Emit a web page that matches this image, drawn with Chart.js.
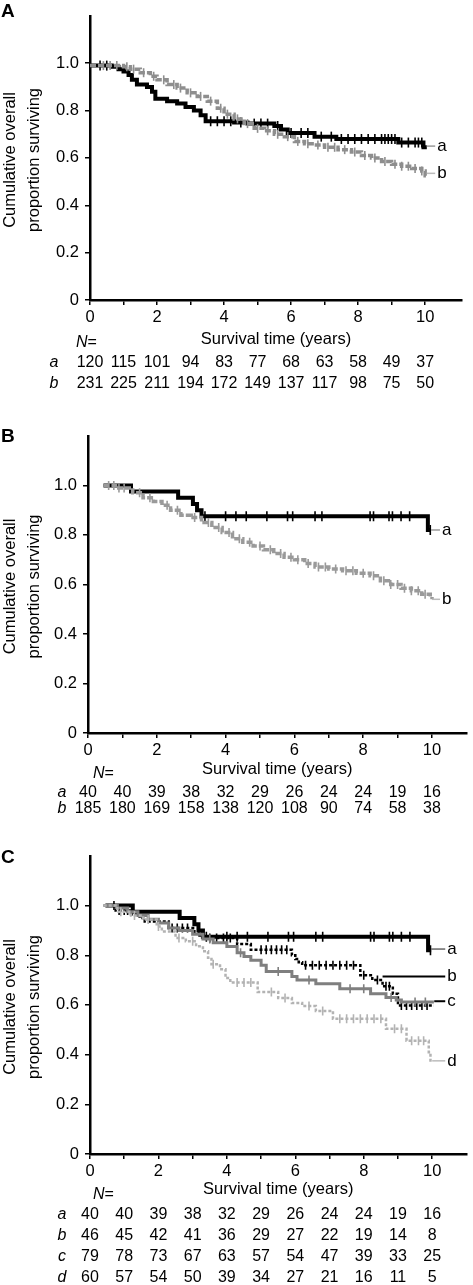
<!DOCTYPE html>
<html>
<head>
<meta charset="utf-8">
<script src="https://cdn.jsdelivr.net/npm/chart.js@4.4.0/dist/chart.umd.min.js"></script>
<style>
html, body { margin: 0; padding: 0; background: #fff; }
#wrap { position: relative; width: 473px; height: 1285px; }
canvas { position: absolute; left: 0; }
</style>
</head>
<body>
<div id="wrap">
  <canvas id="chartA" width="473" height="410" style="top:0px"></canvas>
  <canvas id="chartB" width="473" height="420" style="top:420px"></canvas>
  <canvas id="chartC" width="473" height="445" style="top:840px"></canvas>
</div>
<script>
// ---- data ----
const years = [0, 1, 2, 3, 4, 5, 6, 7, 8, 9, 10];
const yTicks = [0, 0.2, 0.4, 0.6, 0.8, 1.0];

// Panel A
const timeA_a = [0, 0.65, 0.85, 1.0, 1.15, 1.25, 1.4, 1.7, 1.85, 1.95, 2.3, 2.6, 2.85, 3.1, 3.3, 3.45, 4.3, 4.7, 5.5, 5.7, 5.9, 6.7, 7.35, 9.2, 9.95, 10.05];
const survA_a = [0.99, 0.985, 0.975, 0.965, 0.95, 0.93, 0.91, 0.9, 0.88, 0.85, 0.84, 0.83, 0.815, 0.8, 0.78, 0.755, 0.75, 0.745, 0.735, 0.72, 0.705, 0.69, 0.68, 0.665, 0.645, 0.645];
const censA_a = [0.3, 0.5, 3.6, 3.8, 4.0, 4.2, 4.5, 4.9, 5.1, 5.3, 5.6, 6.0, 6.3, 6.5, 6.9, 7.2, 7.5, 7.7, 7.9, 8.1, 8.3, 8.5, 8.7, 8.8, 8.9, 9.0, 9.1, 9.3, 9.5, 9.7, 9.8, 9.9];
const timeA_b = [0, 0.7, 1.0, 1.2, 1.5, 1.8, 2.0, 2.3, 2.6, 2.9, 3.2, 3.5, 3.8, 4.0, 4.3, 4.6, 4.9, 5.2, 5.5, 5.8, 6.1, 6.4, 6.7, 7.0, 7.4, 7.8, 8.1, 8.4, 8.7, 9.0, 9.3, 9.6, 9.9, 10.0, 10.05];
const survA_b = [0.99, 0.99, 0.985, 0.975, 0.96, 0.945, 0.93, 0.91, 0.895, 0.875, 0.86, 0.84, 0.81, 0.785, 0.765, 0.745, 0.725, 0.715, 0.7, 0.69, 0.67, 0.66, 0.655, 0.645, 0.635, 0.625, 0.61, 0.6, 0.585, 0.573, 0.565, 0.555, 0.545, 0.525, 0.525];
const censA_b = [0.4, 0.6, 0.8, 1.1, 1.3, 1.6, 1.9, 2.2, 2.5, 2.7, 3.0, 3.3, 3.6, 3.9, 4.1, 4.4, 4.7, 5.0, 5.3, 5.6, 5.9, 6.2, 6.5, 6.8, 7.1, 7.3, 7.6, 7.9, 8.2, 8.5, 8.8, 9.1, 9.3, 9.5, 9.7, 9.9];
const riskA_a = [120, 115, 101, 94, 83, 77, 68, 63, 58, 49, 37];
const riskA_b = [231, 225, 211, 194, 172, 149, 137, 117, 98, 75, 50];

// Panel B (group a is the same cohort in panel C)
const timeB_a = [0.45, 1.25, 2.62, 3.05, 3.17, 3.3, 9.88, 9.97];
const survB_a = [1.0, 0.975, 0.95, 0.925, 0.9, 0.875, 0.82, 0.82];
const censB_a = [3.4, 4.0, 4.3, 4.6, 5.2, 5.8, 5.95, 6.6, 6.8, 8.2, 8.3, 8.75, 8.85, 9.1, 9.35, 9.95];
const timeB_b = [0.45, 0.8, 1.3, 1.6, 1.9, 2.15, 2.4, 2.7, 3.0, 3.3, 3.6, 3.9, 4.2, 4.5, 4.8, 5.1, 5.4, 5.7, 6.0, 6.3, 6.6, 7.0, 7.4, 7.8, 8.2, 8.5, 8.8, 9.1, 9.4, 9.7, 9.95, 10.0];
const survB_b = [1.0, 0.99, 0.97, 0.95, 0.935, 0.92, 0.9, 0.88, 0.87, 0.85, 0.83, 0.81, 0.785, 0.77, 0.755, 0.74, 0.725, 0.71, 0.7, 0.685, 0.67, 0.662, 0.655, 0.645, 0.635, 0.615, 0.6, 0.585, 0.575, 0.56, 0.55, 0.54];
const censB_b = [0.6, 0.75, 0.9, 1.05, 1.5, 1.8, 2.3, 2.6, 3.1, 3.5, 3.8, 4.1, 4.4, 4.7, 5.0, 5.3, 5.6, 5.9, 6.1, 6.4, 6.7, 6.9, 7.2, 7.5, 7.7, 8.0, 8.3, 8.6, 8.8, 9.0, 9.2, 9.4, 9.6, 9.8];
const riskB_a = [40, 40, 39, 38, 32, 29, 26, 24, 24, 19, 16];
const riskB_b = [185, 180, 169, 158, 138, 120, 108, 90, 74, 58, 38];

// Panel C
const timeC_b = [0.4, 0.75, 1.2, 1.45, 1.6, 2.3, 3.05, 3.2, 3.3, 4.3, 4.7, 5.9, 6.0, 6.1, 6.2, 7.9, 8.25, 8.55, 8.85, 9.0, 10.05];
const survC_b = [1.0, 0.98, 0.965, 0.95, 0.936, 0.91, 0.895, 0.88, 0.87, 0.845, 0.822, 0.8, 0.785, 0.772, 0.76, 0.72, 0.7, 0.675, 0.645, 0.598, 0.598];
const censC_b = [0.7, 0.85, 1.0, 1.1, 2.4, 2.55, 2.7, 2.85, 3.5, 3.7, 3.9, 4.1, 5.0, 5.15, 5.3, 5.45, 5.6, 5.75, 6.3, 6.5, 6.7, 6.9, 7.1, 7.3, 7.5, 7.7, 8.0, 8.4, 8.65, 8.75, 9.1, 9.25, 9.4, 9.55, 9.7, 9.85];
const timeC_c = [0.4, 0.8, 1.1, 1.4, 1.7, 2.0, 2.3, 2.6, 3.0, 3.3, 3.6, 4.0, 4.3, 4.5, 4.7, 5.0, 5.15, 5.9, 6.05, 6.6, 7.3, 8.2, 8.65, 8.95, 9.1, 10.05];
const survC_c = [1.0, 0.99, 0.975, 0.96, 0.945, 0.93, 0.91, 0.9, 0.885, 0.865, 0.85, 0.835, 0.81, 0.795, 0.78, 0.76, 0.735, 0.715, 0.7, 0.685, 0.665, 0.645, 0.63, 0.62, 0.612, 0.612];
const censC_c = [3.5, 4.4, 5.5, 6.4, 7.6, 8.0, 8.8, 9.5, 9.8];
const timeC_d = [0.4, 0.8, 1.2, 1.55, 1.95, 2.1, 2.5, 2.8, 3.1, 3.3, 3.45, 3.55, 3.8, 3.96, 4.1, 4.9, 5.5, 5.9, 6.2, 6.6, 7.1, 8.65, 9.25, 9.9, 9.95, 10.0];
const survC_d = [1.0, 0.975, 0.96, 0.944, 0.916, 0.896, 0.87, 0.856, 0.836, 0.816, 0.79, 0.764, 0.744, 0.708, 0.69, 0.652, 0.628, 0.608, 0.596, 0.576, 0.544, 0.504, 0.456, 0.41, 0.37, 0.37];
const censC_d = [0.9, 1.3, 1.7, 2.0, 2.6, 3.0, 3.6, 4.3, 4.5, 4.7, 5.3, 5.7, 6.4, 6.8, 7.3, 7.5, 7.7, 7.9, 8.1, 8.3, 8.5, 8.9, 9.1, 9.4, 9.6, 9.75];
const riskC_b = [46, 45, 42, 41, 36, 29, 27, 22, 19, 14, 8];
const riskC_c = [79, 78, 73, 67, 63, 57, 54, 47, 39, 33, 25];
const riskC_d = [60, 57, 54, 50, 39, 34, 27, 21, 16, 11, 5];

const FONT = '"Liberation Sans", Arial, Helvetica, sans-serif';

// survival value at time t (step function)
function survAt(t, times, surv) {
    let s = surv[0];
    for (let i = 0; i < times.length; i++) {
        if (times[i] <= t) s = surv[i];
    }
    return s;
}

function curve(times, surv, color, width, dash) {
    return {
        type: 'line',
        data: times.map((t, i) => ({ x: t, y: surv[i] })),
        borderColor: color,
        borderWidth: width,
        borderDash: dash || [],
        // horizontal first, then drop: Kaplan-Meier style
        stepped: 'before',
        pointRadius: 0,
        fill: false
    };
}

function censors(cens, times, surv, color, size) {
    return {
        type: 'line',
        data: cens.map(t => ({ x: t, y: survAt(t, times, surv) })),
        showLine: false,
        pointStyle: 'line',
        rotation: 90,
        pointRadius: size || 5,
        borderColor: color,
        borderWidth: 1.6,
        backgroundColor: color
    };
}

function textPlugin(p) {
    return {
        id: 'panelText',
        afterDraw(chart) {
            const ctx = chart.ctx;
            const area = chart.chartArea;
            const xs = chart.scales.x;
            const ys = chart.scales.y;
            ctx.save();
            ctx.fillStyle = '#000';

            // panel letter
            ctx.font = 'bold 19px ' + FONT;
            ctx.textAlign = 'left';
            ctx.textBaseline = 'middle';
            ctx.fillText(p.letter, 1, p.letterY);

            // y title, two lines
            ctx.font = '16.5px ' + FONT;
            ctx.textAlign = 'center';
            const midY = (area.top + area.bottom) / 2 + 2;
            ['Cumulative overall', 'proportion surviving'].forEach((line, i) => {
                ctx.save();
                ctx.translate(10 + i * 24, midY);
                ctx.rotate(-Math.PI / 2);
                ctx.fillText(line, 0, 0);
                ctx.restore();
            });

            // x title
            ctx.fillText('Survival time (years)', (area.left + area.right) / 2, p.titleY);

            // N=
            ctx.textAlign = 'left';
            ctx.font = 'italic 16px ' + FONT;
            ctx.fillText('N', p.nX, p.nY);
            const nw = ctx.measureText('N').width;
            ctx.font = '16px ' + FONT;
            ctx.fillText('=', p.nX + nw, p.nY);

            // numbers at risk
            p.rows.forEach((row, r) => {
                const y = p.rowY[r];
                ctx.font = 'italic 16px ' + FONT;
                ctx.textAlign = 'center';
                ctx.fillText(row.name, p.rowX, y);
                ctx.font = '16px ' + FONT;
                row.values.forEach((v, i) => {
                    ctx.fillText(String(v), xs.getPixelForValue(years[i]), y);
                });
            });

            // curve labels and leader stubs
            p.labels.forEach(l => {
                const y = ys.getPixelForValue(l.y);
                ctx.strokeStyle = l.stubColor;
                ctx.lineWidth = l.stubWidth || 1.5;
                ctx.beginPath();
                ctx.moveTo(xs.getPixelForValue(l.from), y);
                ctx.lineTo(xs.getPixelForValue(p.labelX) - 2, y);
                ctx.stroke();
                ctx.font = '17px ' + FONT;
                ctx.textAlign = 'left';
                ctx.fillText(l.text, xs.getPixelForValue(p.labelX), y);
            });
            ctx.restore();
        }
    };
}

function drawPanel(id, p) {
    const canvas = document.getElementById(id);
    const H = canvas.height;
    new Chart(canvas.getContext('2d'), {
        data: { datasets: p.datasets },
        options: {
            responsive: false,
            animation: false,
            devicePixelRatio: 1,
            layout: { padding: { top: p.top, right: 473 - p.right, left: 0, bottom: 0 } },
            plugins: { legend: { display: false }, tooltip: { enabled: false } },
            scales: {
                x: {
                    type: 'linear',
                    min: 0,
                    max: p.xMax,
                    afterBuildTicks: s => { s.ticks = years.map(v => ({ value: v })); },
                    afterFit: s => { s.height = H - p.bottom; },
                    ticks: {
                        autoSkip: false,
                        maxRotation: 0,
                        padding: 3,
                        color: '#000',
                        font: { family: FONT, size: 16.5 },
                        callback: v => (v % 2 === 0 ? String(v) : '')
                    },
                    grid: { drawOnChartArea: false, drawTicks: true, tickLength: 5, color: '#000', lineWidth: 1.5 },
                    border: { display: true, color: '#000', width: 2.5 }
                },
                y: {
                    type: 'linear',
                    min: 0,
                    max: 1.2,
                    afterBuildTicks: s => { s.ticks = yTicks.map(v => ({ value: v })); },
                    afterFit: s => { s.width = p.left; },
                    ticks: {
                        padding: 6,
                        color: '#000',
                        font: { family: FONT, size: 16.5 },
                        callback: v => (v === 0 ? '0' : v.toFixed(1))
                    },
                    grid: { drawOnChartArea: false, drawTicks: true, tickLength: 5, color: '#000', lineWidth: 1.5 },
                    border: { display: true, color: '#000', width: 2.5 }
                }
            }
        },
        plugins: [textPlugin(p)]
    });
}

const grayA = '#8e8e8e';
const grayB = '#9a9a9a';
const grayC = '#7f7f7f';
const lightC = '#b3b3b3';

drawPanel('chartA', {
    letter: 'A', letterY: 12,
    left: 90, right: 462, top: 5, bottom: 300, xMax: 11.1,
    titleY: 339, nX: 76, nY: 343, rowX: 54, rowY: [363, 384],
    rows: [{ name: 'a', values: riskA_a }, { name: 'b', values: riskA_b }],
    labelX: 10.36,
    labels: [
        { text: 'a', y: 0.65, from: 10.05, stubColor: '#999' },
        { text: 'b', y: 0.535, from: 10.05, stubColor: '#bbb' }
    ],
    datasets: [
        censors(censA_b, timeA_b, survA_b, grayA, 4.5),
        curve(timeA_b, survA_b, grayA, 3.5, [6, 2]),
        censors(censA_a, timeA_a, survA_a, '#000'),
        curve(timeA_a, survA_a, '#000', 4)
    ]
});

drawPanel('chartB', {
    letter: 'B', letterY: 17,
    left: 88, right: 468, top: 13, bottom: 313, xMax: 11.0,
    titleY: 349, nX: 93, nY: 354, rowX: 62, rowY: [373, 389],
    rows: [{ name: 'a', values: riskB_a }, { name: 'b', values: riskB_b }],
    labelX: 10.29,
    labels: [
        { text: 'a', y: 0.82, from: 9.97, stubColor: '#999' },
        { text: 'b', y: 0.54, from: 10.0, stubColor: '#bbb' }
    ],
    datasets: [
        censors(censB_b, timeB_b, survB_b, grayB, 4.5),
        curve(timeB_b, survB_b, grayB, 3.5, [6, 2]),
        censors(censB_a, timeB_a, survB_a, '#000'),
        curve(timeB_a, survB_a, '#000', 4)
    ]
});

drawPanel('chartC', {
    letter: 'C', letterY: 18,
    left: 90, right: 467, top: 15, bottom: 314, xMax: 11.0,
    titleY: 349, nX: 93, nY: 355, rowX: 62, rowY: [375, 396, 417, 438],
    rows: [
        { name: 'a', values: riskB_a },
        { name: 'b', values: riskC_b },
        { name: 'c', values: riskC_c },
        { name: 'd', values: riskC_d }
    ],
    labelX: 10.44,
    labels: [
        { text: 'a', y: 0.825, from: 9.97, stubColor: '#666' },
        { text: 'b', y: 0.715, from: 8.55, stubColor: '#000', stubWidth: 2 },
        { text: 'c', y: 0.615, from: 10.06, stubColor: '#000', stubWidth: 2 },
        { text: 'd', y: 0.375, from: 10.0, stubColor: '#bbb' }
    ],
    datasets: [
        censors(censC_d, timeC_d, survC_d, lightC, 4.5),
        curve(timeC_d, survC_d, lightC, 2.5, [3, 2]),
        censors(censC_c, timeC_c, survC_c, grayC, 4.5),
        curve(timeC_c, survC_c, grayC, 3),
        censors(censC_b, timeC_b, survC_b, '#000', 4.5),
        curve(timeC_b, survC_b, '#000', 2.5, [3, 2]),
        censors(censB_a, timeB_a, survB_a, '#000'),
        curve(timeB_a, survB_a, '#000', 4)
    ]
});
</script>
</body>
</html>
